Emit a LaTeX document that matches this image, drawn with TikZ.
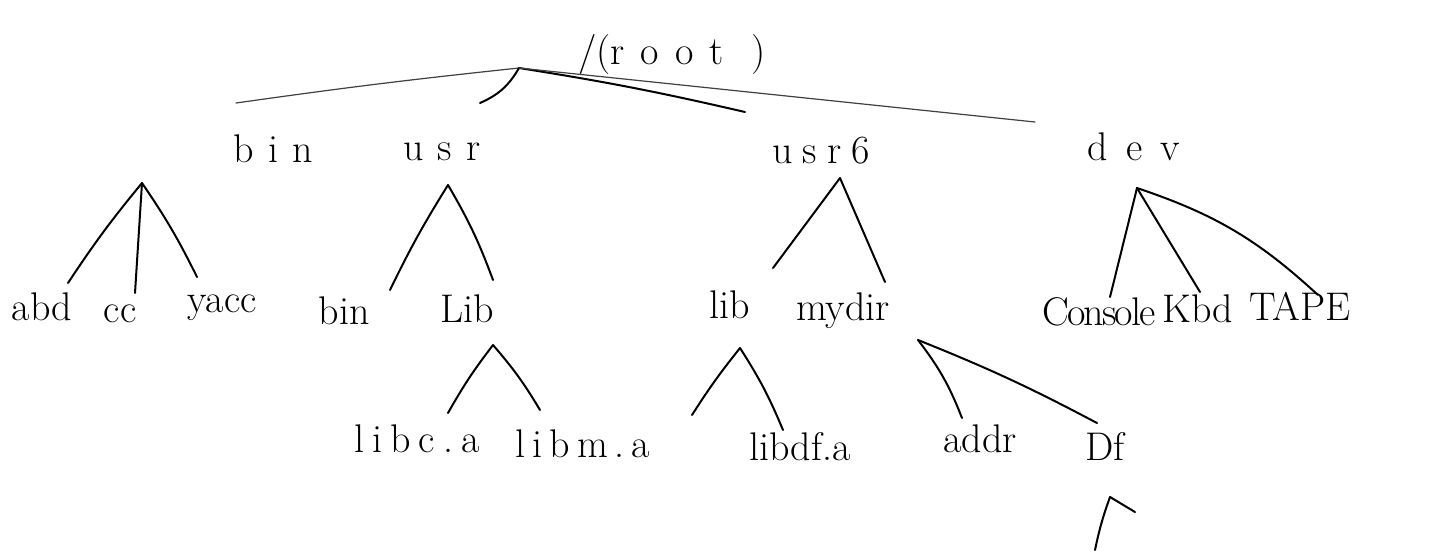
\documentclass[tikz,border=0pt]{standalone}
\usepackage{fontspec}
% extra space between handwritten-style letters
\newcommand\gp[1]{\kern#1pt\relax}
\begin{document}
\begin{tikzpicture}[x=0.5pt,y=-0.5pt]
\tikzset{
  lbl/.style={font=\fontsize{20}{24}\selectfont, inner sep=0pt, anchor=base},
  edge/.style={line width=1pt, line cap=round, line join=round},
  faint/.style={line width=0.6pt, black!75, line cap=round}
}
\fill[white] (0,0) rectangle (1445,554);
\useasboundingbox (0,0) rectangle (1445,554);

% ---- labels ----
\node[lbl] (root)    at (672,64)  {/(r\gp{8}o\gp{8}o\gp{8}t\gp{14})};
\node[lbl] (bin)     at (273,162) {b\gp{7}i\gp{7}n};
\node[lbl] (usr)     at (442,160) {u\gp{7}s\gp{7}r};
\node[lbl] (usrsix)  at (821,163) {u\gp{5}s\gp{5}r\gp{5}6};
\node[lbl] (dev)     at (1134,160){d\gp{9}e\gp{9}v};

\node[lbl] (abd)     at (42,320)  {abd};
\node[lbl] (cc)      at (120,322) {cc};
\node[lbl] (yacc)    at (222,312) {yacc};
\node[lbl] (binb)    at (344,324) {bin};
\node[lbl] (Lib)     at (467,322) {Lib};
\node[lbl] (lib)     at (730,318) {lib};
\node[lbl] (mydir)   at (843,320) {mydir};
\node[lbl] (console) at (1099,325){C\gp{-1}o\gp{-1}n\gp{-1}s\gp{-1}o\gp{-1}l\gp{-1}e};
\node[lbl] (kbd)     at (1198,322){Kbd};
\node[lbl] (tape)    at (1300,320){TAPE};

\node[lbl] (libc)    at (417,452) {l\gp{4}i\gp{4}b\gp{4}c\gp{4}.\gp{4}a};
\node[lbl] (libm)    at (583,457) {l\gp{3.5}i\gp{3.5}b\gp{3.5}m\gp{3.5}.\gp{3.5}a};
\node[lbl] (libdf)   at (800,460) {libdf.a};
\node[lbl] (addr)    at (980,452) {addr};
\node[lbl] (df)      at (1105,460){Df};

% ---- branch points ----
\coordinate (jroot)  at (519,68);
\coordinate (jbin)   at (142,183);
\coordinate (jusr)   at (448,185);
\coordinate (jusrsix) at (840,178);
\coordinate (jdev)   at (1137,188);
\coordinate (jLib)   at (493,345);
\coordinate (jlib)   at (740,348);
\coordinate (jmydir) at (918,340);
\coordinate (jdf)    at (1110,497);

% ---- branch ends ----
\coordinate (ebin)   at (236,103);
\coordinate (eusr)   at (480,103);
\coordinate (eusrsix) at (745,112);
\coordinate (edev)   at (1035,122);
\coordinate (eabd)   at (68,283);
\coordinate (ecc)    at (135,293);
\coordinate (eyacc)  at (197,277);
\coordinate (ebinb)  at (390,290);
\coordinate (eLib)   at (493,280);
\coordinate (elib)   at (773,268);
\coordinate (emydir) at (885,282);
\coordinate (econsole) at (1110,297);
\coordinate (ekbd)   at (1200,292);
\coordinate (etape)  at (1318,295);
\coordinate (elibc)  at (448,413);
\coordinate (elibm)  at (540,410);
\coordinate (elibdf) at (692,415);
\coordinate (elibdfb) at (783,430);
\coordinate (eaddr)  at (962,418);
\coordinate (edf)    at (1097,423);
\coordinate (edfl)   at (1095,550);
\coordinate (edfr)   at (1135,512);

% ---- root branches ----
\draw[faint] (jroot) to[bend right=1] (ebin);
\draw[edge]  (jroot) to[bend left=18] (eusr);
\draw[edge]  (jroot) to[bend left=2] (eusrsix);
\draw[faint] (jroot) -- (edev);

% ---- bin ----
\draw[edge] (jbin) to[bend right=3] (eabd);
\draw[edge] (jbin) -- (ecc);
\draw[edge] (jbin) to[bend left=4] (eyacc);
% ---- usr ----
\draw[edge] (jusr) to[bend right=3] (ebinb);
\draw[edge] (jusr) to[bend left=5] (eLib);
% ---- usr6 ----
\draw[edge] (jusrsix) -- (elib);
\draw[edge] (jusrsix) -- (emydir);
% ---- dev ----
\draw[edge] (jdev) -- (econsole);
\draw[edge] (jdev) -- (ekbd);
\draw[edge] (jdev) to[bend left=12] (etape);
% ---- Lib ----
\draw[edge] (jLib) to[bend right=4] (elibc);
\draw[edge] (jLib) to[bend left=5] (elibm);
% ---- lib ----
\draw[edge] (jlib) to[bend right=3] (elibdf);
\draw[edge] (jlib) to[bend left=5] (elibdfb);
% ---- mydir ----
\draw[edge] (jmydir) to[bend left=8] (eaddr);
\draw[edge] (jmydir) to[bend left=3] (edf);
% ---- Df ----
\draw[edge] (jdf) to[bend right=4] (edfl);
\draw[edge] (jdf) -- (edfr);
\end{tikzpicture}
\end{document}
